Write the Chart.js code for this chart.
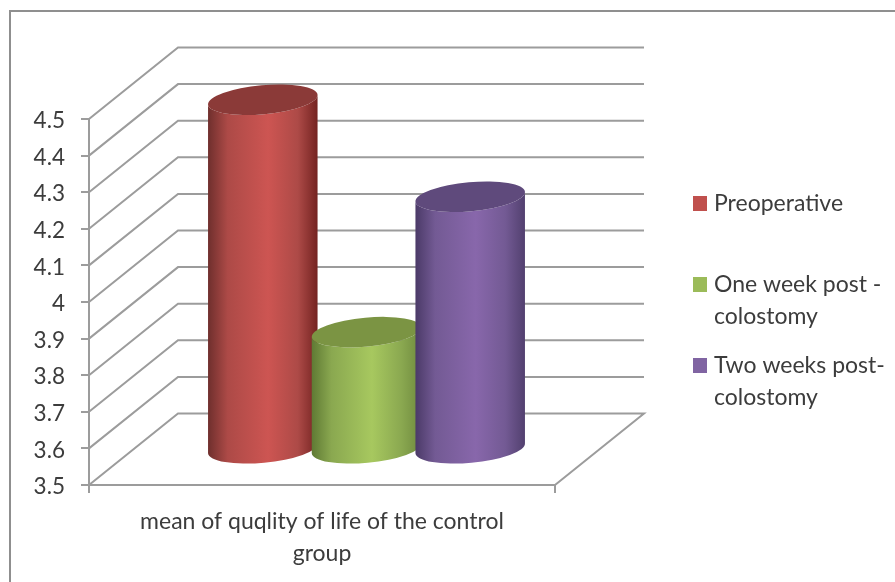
<!DOCTYPE html>
<html>
<head>
<meta charset="utf-8">
<title>mean of quality of life</title>
<script src="https://cdn.jsdelivr.net/npm/chart.js@4"></script>
<style>
    html, body { margin: 0; padding: 0; background: #fff; overflow: hidden; }
    canvas { display: block; }
</style>
</head>
<body>
<canvas id="qolchart" width="895" height="582"></canvas>
<script>
const categories = [["mean of quqlity of life of the control", "group"]];
const seriesNames = ["Preoperative", "One week post - colostomy", "Two weeks post-colostomy"];
const preoperative = [4.455];
const oneWeek = [3.82];
const twoWeeks = [4.19];
const yTicks = [3.5, 3.6, 3.7, 3.8, 3.9, 4, 4.1, 4.2, 4.3, 4.4, 4.5];
const legendLines = [["Preoperative"], ["One week post -", "colostomy"], ["Two weeks post-", "colostomy"]];

const fontName = "Lato, 'Open Sans', sans-serif";
const textColor = "#3c3c3c";
const lineColor = "#9c9c9c";

// how far the back wall sits behind the axes
const depthX = 89;
const depthY = 71.5;

const flatColors = ["#c0504d", "#9bbb59", "#8064a2"];
const shades = [
    { edgeL: "#6f2f2d", side: "#ad4a47", mid: "#cd5552", edgeR: "#742321", top: "#8b3a38" },
    { edgeL: "#5f7a34", side: "#8aa850", mid: "#a7c85f", edgeR: "#6f8a3e", top: "#7b9443" },
    { edgeL: "#4b3a68", side: "#735a94", mid: "#8867ab", edgeR: "#52406f", top: "#5f4a7c" }
];
const legendY = [[196, 204], [277, 285, 317], [358, 366, 398]];

// cylinder top and bottom are slightly tilted ellipses
function drawCylinder(ctx, bar, shade){
    let cx = bar.x + depthX / 2;
    let topY = bar.y - depthY / 2;
    let botY = bar.base - depthY / 2;
    let tilt = -5.2 * Math.PI / 180;
    let rx = bar.width / 2 / Math.cos(tilt);
    let ry = 14.5;
    let lift = Math.sin(tilt) * rx;

    let grad = ctx.createLinearGradient(cx - bar.width / 2, 0, cx + bar.width / 2, 0);
    grad.addColorStop(0, shade.edgeL);
    grad.addColorStop(0.18, shade.side);
    grad.addColorStop(0.55, shade.mid);
    grad.addColorStop(0.82, shade.side);
    grad.addColorStop(1, shade.edgeR);

    ctx.save();
    ctx.beginPath();
    ctx.moveTo(cx - bar.width / 2, topY - lift);
    ctx.lineTo(cx - bar.width / 2, botY - lift);
    ctx.ellipse(cx, botY, rx, ry, tilt, Math.PI, 0, true);
    ctx.lineTo(cx + bar.width / 2, topY + lift);
    ctx.ellipse(cx, topY, rx, ry, tilt, 0, Math.PI, false);
    ctx.closePath();
    ctx.fillStyle = grad;
    ctx.fill();

    ctx.beginPath();
    ctx.ellipse(cx, topY, rx, ry, tilt, 0, Math.PI * 2);
    ctx.fillStyle = shade.top;
    ctx.fill();
    ctx.restore();
}

const wallPlugin = {
    id: "wall",
    beforeDraw(chart){
        let ctx = chart.ctx;
        ctx.save();
        ctx.strokeStyle = "#8f8f8f";
        ctx.lineWidth = 2;
        ctx.strokeRect(10, 11, 900, 600);
        ctx.restore();
    },
    beforeDatasetsDraw(chart){
        let ctx = chart.ctx;
        let area = chart.chartArea;
        let y = chart.scales.y;
        ctx.save();
        ctx.strokeStyle = lineColor;
        ctx.lineWidth = 2;
        for(let i = 0; i < yTicks.length; i++){
            let py = y.getPixelForValue(yTicks[i]);
            ctx.beginPath();
            ctx.moveTo(area.left, py);
            ctx.lineTo(area.left + depthX, py - depthY);
            ctx.lineTo(area.right + depthX, py - depthY);
            if(i == 0){
                ctx.lineTo(area.right, py);
            }
            ctx.stroke();
        }
        ctx.restore();
    },
    // the cylinders replace the flat bars
    beforeDatasetDraw(){
        return false;
    },
    afterDatasetsDraw(chart){
        for(let i = 0; i < chart.data.datasets.length; i++){
            drawCylinder(chart.ctx, chart.getDatasetMeta(i).data[0], shades[i]);
        }
    },
    afterDraw(chart){
        let ctx = chart.ctx;
        ctx.save();
        ctx.font = "23px " + fontName;
        ctx.textBaseline = "middle";
        for(let i = 0; i < legendLines.length; i++){
            ctx.fillStyle = flatColors[i];
            ctx.fillRect(693, legendY[i][0], 14, 15);
            ctx.fillStyle = textColor;
            for(let j = 0; j < legendLines[i].length; j++){
                ctx.fillText(legendLines[i][j], 714, legendY[i][j + 1]);
            }
        }
        ctx.restore();
    }
};

let graphChart = new Chart(document.getElementById("qolchart"), {
    type: "bar",
    plugins: [wallPlugin],
    data: {
        labels: categories,
        datasets: [
            { label: seriesNames[0], data: preoperative, base: yTicks[0], backgroundColor: flatColors[0] },
            { label: seriesNames[1], data: oneWeek, base: yTicks[0], backgroundColor: flatColors[1] },
            { label: seriesNames[2], data: twoWeeks, base: yTicks[0], backgroundColor: flatColors[2] }
        ]
    },
    options: {
        responsive: false,
        animation: false,
        barPercentage: 1.056,
        categoryPercentage: 0.6676,
        layout: { padding: { top: 119, right: 340, left: 0, bottom: 0 } },
        plugins: { legend: { display: false }, tooltip: { enabled: false } },
        scales: {
            x: {
                afterFit(scale){ scale.height = 97; },
                border: { color: lineColor, width: 2 },
                grid: { drawOnChartArea: false, tickLength: 8, color: lineColor, lineWidth: 2 },
                ticks: {
                    color: textColor,
                    maxRotation: 0,
                    padding: 12,
                    font: { family: fontName, size: 23, lineHeight: 1.4 }
                }
            },
            y: {
                min: 3.5,
                max: 4.5,
                afterFit(scale){ scale.width = 89; },
                afterBuildTicks(scale){ scale.ticks = yTicks.map(v => ({ value: v })); },
                border: { color: lineColor, width: 2 },
                grid: { drawOnChartArea: false, tickLength: 8, color: lineColor, lineWidth: 2 },
                ticks: {
                    color: textColor,
                    padding: 16,
                    labelOffset: 2,
                    font: { family: fontName, size: 22.5 },
                    callback: function(value){ return String(value); }
                }
            }
        }
    }
});
</script>
</body>
</html>
